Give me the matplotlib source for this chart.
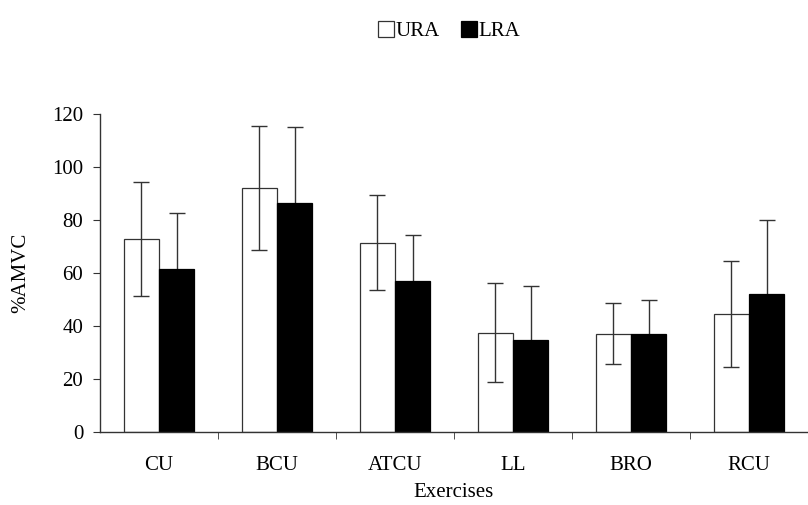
import numpy as np
import matplotlib.pyplot as plt

# exercises and mean %AMVC
exercises = ['CU', 'BCU', 'ATCU', 'LL', 'BRO', 'RCU']
ura_mean = [73, 92, 71.5, 37.5, 37, 44.5]
ura_sd = [21.5, 23.5, 18, 18.8, 11.5, 20]
lra_mean = [61.5, 86.5, 57, 34.7, 37, 52]
lra_sd = [21, 28.5, 17.5, 20.5, 12.7, 28]

plt.rcParams['font.family'] = ['Liberation Serif', 'DejaVu Serif']
plt.rcParams['font.size'] = 15

fig = plt.figure(figsize=(8.08, 5.05), dpi=100)
ax = fig.add_axes([100 / 808, 73 / 505, 708 / 808, 318 / 505])

x = np.arange(len(exercises))
w = 0.3
line_col = '#333333'

ax.bar(x - w / 2, ura_mean, w, color='white', edgecolor=line_col, linewidth=0.9,
       label='URA', zorder=2)
ax.bar(x + w / 2, lra_mean, w, color='black', edgecolor='black', linewidth=0.9,
       label='LRA', zorder=2)
ax.errorbar(x - w / 2, ura_mean, yerr=ura_sd, fmt='none', ecolor=line_col,
            elinewidth=1, capsize=5.5, capthick=1, zorder=3)
ax.errorbar(x + w / 2, lra_mean, yerr=lra_sd, fmt='none', ecolor=line_col,
            elinewidth=1, capsize=5.5, capthick=1, zorder=1)

ax.set_xlim(-0.5, len(exercises) - 0.5)
ax.set_ylim(0, 120)
ax.set_yticks(range(0, 121, 20))
ax.set_xticks(x)
ax.set_xticklabels(exercises)
ax.set_xticks(x[:-1] + 0.5, minor=True)
ax.tick_params(axis='x', which='major', length=0, pad=17)
ax.tick_params(axis='x', which='minor', length=5, direction='out', color=line_col)
ax.tick_params(axis='y', length=5, direction='out', color=line_col, pad=7)

for s in ['top', 'right']:
    ax.spines[s].set_visible(False)
for s in ['left', 'bottom']:
    ax.spines[s].set_color(line_col)
    ax.spines[s].set_linewidth(1)

ax.set_ylabel('%AMVC', labelpad=16)
ax.set_xlabel('Exercises', labelpad=6)

fig.legend(loc='upper center', bbox_to_anchor=(0.556, 0.995), ncol=2, frameon=False,
           handlelength=0.75, handleheight=0.75, handletextpad=0.1, columnspacing=1.0)

fig.savefig('out.png', dpi=100)
